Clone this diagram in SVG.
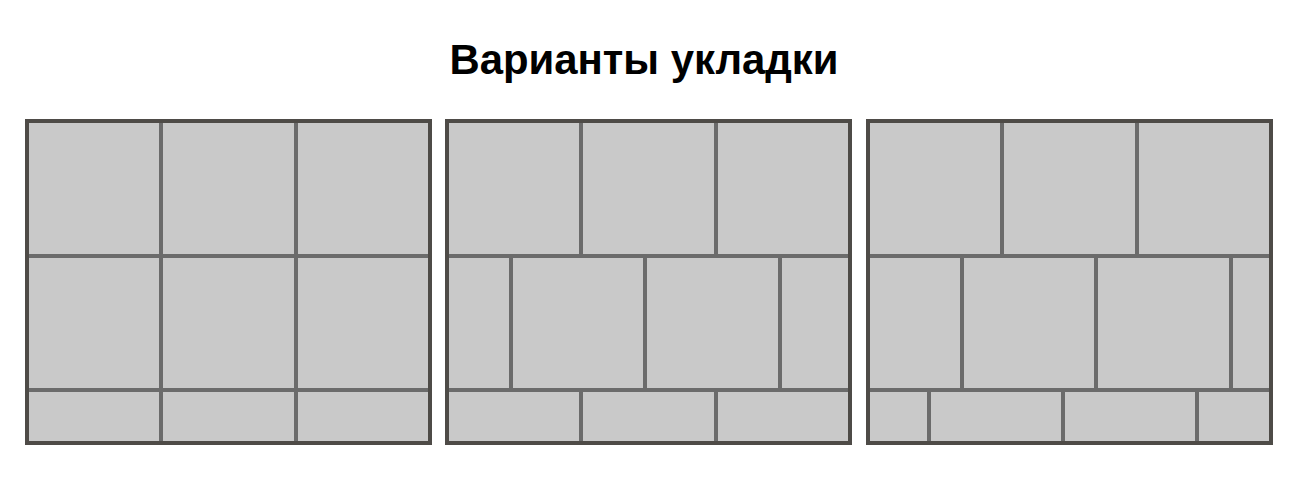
<svg xmlns="http://www.w3.org/2000/svg" width="1299" height="481" viewBox="0 0 1299 481">
<style>
.bg{fill:#c9c9c9}
.ln{stroke:#6b6b6b;stroke-width:4;fill:none}
.fr{stroke:#4e4b47;stroke-width:4;fill:none}
.t{font-family:"Liberation Sans",Arial,sans-serif;font-weight:bold;font-size:43px;fill:#000}
</style>
<rect width="1299" height="481" fill="#fff"/>
<text class="t" x="644" y="74" text-anchor="middle" textLength="389" lengthAdjust="spacingAndGlyphs">Варианты укладки</text>
<g id="panel1">
<rect class="bg" x="27" y="121" width="403" height="322"/>
<path class="ln" d="M27 256H430M27 390H430M161 121V443M296 121V443"/>
<rect class="fr" x="27" y="121" width="403" height="322"/>
</g>
<g id="panel2">
<rect class="bg" x="447" y="121" width="403" height="322"/>
<path class="ln" d="M447 256H850M447 390H850M581 121V256M716 121V256M511 256V390M645 256V390M780 256V390M581 390V443M716 390V443"/>
<rect class="fr" x="447" y="121" width="403" height="322"/>
</g>
<g id="panel3">
<rect class="bg" x="868" y="121" width="403" height="322"/>
<path class="ln" d="M868 256H1271M868 390H1271M1002 121V256M1137 121V256M962 256V390M1096 256V390M1231 256V390M929 390V443M1063 390V443M1197 390V443"/>
<rect class="fr" x="868" y="121" width="403" height="322"/>
</g>
</svg>
